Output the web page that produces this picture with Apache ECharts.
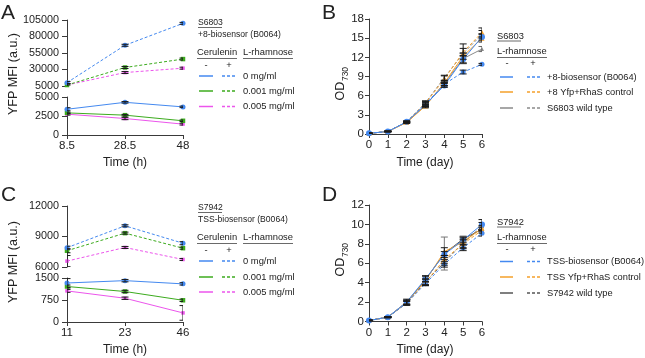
<!DOCTYPE html>
<html><head><meta charset="utf-8">
<script src="https://cdn.jsdelivr.net/npm/echarts@6/dist/echarts.min.js"></script>
<style>html,body{margin:0;padding:0;background:#fff}#c{width:645px;height:358px}</style>
</head><body><div id="c"></div>
<script>
// ---------- Panel A (S6803, time in h) ----------
const aTimes = ['8.5', '28.5', '48'];
const aBlueDash = [10100, 66700, 99900];
const aGreenDash = [6500, 33000, 45800];
const aMagDash = [6500, 25400, 32000];
const aBlueSolid = [3390, 4300, 3700];
const aGreenSolid = [2910, 2610, 1870];
const aMagSolid = [2740, 2170, 1430];
const aErrBlueDash = [1800, 1500, 1500];
const aErrGreenDash = [1800, 1500, 1500];
const aErrMagDash = [1800, 1500, 1500];
const aErrBlueSolid = [200, 100, 100];
const aErrGreenSolid = [100, 100, 100];
const aErrMagSolid = [120, 150, 120];

// ---------- Panel C (S7942, time in h) ----------
const cTimes = ['11', '23', '46'];
const cBlueDash = [7900, 10050, 8340];
const cGreenDash = [7600, 9330, 7850];
const cMagDash = [6580, 7920, 6740];
const cBlueSolid = [1330, 1410, 1300];
const cGreenSolid = [1210, 1040, 740];
const cMagSolid = [1060, 810, 310];
const cErrBlueDash = [150, 100, 150];
const cErrGreenDash = [200, 100, 100];
const cErrMagDash = [550, 100, 100];
const cErrBlueSolid = [150, 40, 40];
const cErrGreenSolid = [50, 40, 40];
const cErrMagSolid = [50, 40, 250];

// ---------- Panel B (S6803 growth, OD730) ----------
const days = [0, 1, 2, 3, 4, 5, 6];
const bBlueSolid = [0.1, 0.4, 1.9, 4.6, 7.6, 11.7, 15.2];
const bBlueDash = [0.1, 0.4, 1.9, 4.7, 7.8, 9.7, 10.9];
const bOrangeSolid = [0.1, 0.4, 1.8, 4.4, 8.0, 12.2, 15.0];
const bOrangeDash = [0.1, 0.4, 1.9, 4.8, 8.6, 12.8, 15.9];
const bGreySolid = [0.1, 0.4, 1.8, 4.5, 7.9, 11.8, 13.3];
const bGreyDash = [0.1, 0.4, 1.9, 4.9, 8.8, 12.6, 15.6];
const bErrBlueSolid = [0.05, 0.05, 0.15, 0.3, 0.3, 0.6, 0.5];
const bErrBlueDash = [0.05, 0.05, 0.1, 0.3, 0.3, 0.3, 0.15];
const bErrOrangeSolid = [0.05, 0.05, 0.15, 0.3, 0.4, 0.5, 0.6];
const bErrOrangeDash = [0.05, 0.05, 0.1, 0.3, 0.5, 0.6, 0.7];
const bErrGreySolid = [0.05, 0.05, 0.1, 0.3, 0.3, 0.8, 0.4];
const bErrGreyDash = [0.05, 0.05, 0.1, 0.3, 0.4, 1.5, 0.6];

// ---------- Panel D (S7942 growth, OD730) ----------
const dBlueSolid = [0.1, 0.45, 2.0, 4.4, 6.9, 8.4, 10.0];
const dBlueDash = [0.1, 0.45, 1.9, 3.9, 5.9, 7.6, 9.1];
const dOrangeSolid = [0.1, 0.45, 2.0, 4.2, 7.2, 8.2, 9.6];
const dOrangeDash = [0.1, 0.45, 1.9, 4.0, 6.4, 8.0, 9.4];
const dGreySolid = [0.1, 0.45, 2.0, 4.3, 7.0, 8.5, 9.5];
const dGreyDash = [0.1, 0.45, 1.9, 4.1, 6.1, 8.1, 9.8];
const dErrBlueSolid = [0.05, 0.05, 0.3, 0.3, 0.3, 0.3, 0.5];
const dErrBlueDash = [0.05, 0.05, 0.2, 0.2, 0.3, 0.3, 0.3];
const dErrOrangeSolid = [0.05, 0.05, 0.2, 0.5, 0.4, 0.3, 0.3];
const dErrOrangeDash = [0.05, 0.05, 0.2, 0.3, 0.4, 0.4, 0.3];
const dErrGreySolid = [0.05, 0.05, 0.2, 0.3, 1.7, 0.3, 0.3];
const dErrGreyDash = [0.05, 0.05, 0.2, 0.3, 0.3, 0.6, 0.4];

// ---------- Legend texts ----------
const concLabels = ['0 mg/ml', '0.001 mg/ml', '0.005 mg/ml'];
const bLegendLabels = ['+8-biosensor (B0064)', '+8 Yfp+RhaS control', 'S6803 wild type'];
const dLegendLabels = ['TSS-biosensor (B0064)', 'TSS Yfp+RhaS control', 'S7942 wild type'];

const BLUE = '#4489f0', GREEN = '#3cab1e', MAG = '#ec55ec', ORANGE = '#f5a02a', GREY = '#8a8a8a', GREYD = '#555';
const AX = '#3a3a3a';
const FONT = 'Liberation Sans, Arial, sans-serif';
const DASH = [3, 2];

const chart = echarts.init(document.getElementById('c'), null, {renderer: 'canvas'});

function lineS(idx, data, color, dashed, symbol, size, z) {
  return {type: 'line', xAxisIndex: idx, yAxisIndex: idx, data: data, symbol: symbol, symbolSize: size,
    showSymbol: true, animation: false, z: z || 3,
    lineStyle: {color: color, width: 1, type: dashed ? DASH : 'solid'},
    itemStyle: {color: color}, emphasis: {disabled: true}};
}
function xy(xs, ys) { return ys.map((v, i) => [xs[i], v]); }
function errS(idx, xs, vals, errs, color) {
  return {type: 'custom', xAxisIndex: idx, yAxisIndex: idx, clip: true, animation: false, z: 4,
    data: vals.map((v, i) => [xs[i], v - errs[i], v + errs[i]]),
    encode: {x: 0, y: [1, 2]},
    renderItem: function (params, api) {
      const x = api.value(0), lo = api.value(1), hi = api.value(2);
      const p1 = api.coord([x, hi]), p2 = api.coord([x, lo]);
      const w = 3.5;
      const st = {stroke: color || '#1a1a1a', lineWidth: 1};
      return {type: 'group', children: [
        {type: 'line', shape: {x1: p1[0], y1: p1[1], x2: p2[0], y2: p2[1]}, style: st},
        {type: 'line', shape: {x1: p1[0] - w, y1: p1[1], x2: p1[0] + w, y2: p1[1]}, style: st},
        {type: 'line', shape: {x1: p2[0] - w, y1: p2[1], x2: p2[0] + w, y2: p2[1]}, style: st}
      ]};
    }};
}
const idxA = [0, 1, 2];
const plain = v => String(v);

function axisBase() {
  return {axisLine: {show: true, lineStyle: {color: AX, width: 1}},
    axisTick: {show: true, length: 5, lineStyle: {color: AX}},
    splitLine: {show: false},
    axisLabel: {color: '#222', fontSize: 10.8, fontFamily: FONT, formatter: plain}};
}
function yAx(gridIndex, min, max, interval, tickLen, margin, fs) {
  const a = Object.assign({type: 'value', gridIndex: gridIndex, min: min, max: max, interval: interval}, axisBase());
  a.axisTick.length = tickLen; a.axisLabel.margin = margin; a.axisLabel.fontSize = fs;
  return a;
}
function xCat(gridIndex, cats, show) {
  const a = Object.assign({type: 'category', gridIndex: gridIndex, data: cats, boundaryGap: false}, axisBase());
  a.axisLabel.fontSize = 11.5; a.axisLabel.margin = 5; a.axisTick.length = 4;
  a.axisTick.alignWithLabel = true;
  if (!show) a.show = false;
  return a;
}
function xVal(gridIndex) {
  const a = Object.assign({type: 'value', gridIndex: gridIndex, min: 0, max: 6, interval: 1}, axisBase());
  a.axisLabel.fontSize = 11.5; a.axisLabel.margin = 5; a.axisTick.length = 4;
  return a;
}

const grids = [
  {left: 67, top: 20, width: 116, height: 66},
  {left: 67, top: 97, width: 116, height: 38},
  {left: 67, top: 206, width: 116, height: 61},
  {left: 67, top: 278, width: 116, height: 44},
  {left: 369, top: 19, width: 113, height: 115},
  {left: 369, top: 205, width: 113, height: 116.5}
];

const yAxes = [
  yAx(0, 5000, 105000, 25000, 5, 8, 10.8),
  yAx(1, 0, 5000, 2500, 5, 8, 10.8),
  yAx(2, 6000, 12000, 3000, 5, 8, 10.8),
  yAx(3, 0, 1500, 750, 5, 8, 10.8),
  yAx(4, 0, 18, 3, 4, 5, 11.5),
  yAx(5, 0, 12, 2, 4, 5, 11.5)
];
const xAxes = [xCat(0, aTimes, false), xCat(1, aTimes, true), xCat(2, cTimes, false), xCat(3, cTimes, true), xVal(4), xVal(5)];

const series = [
  // A upper (dashed, + L-rhamnose)
  lineS(0, aMagDash, MAG, true, 'rect', 3.5), lineS(0, aGreenDash, GREEN, true, 'rect', 4.5), lineS(0, aBlueDash, BLUE, true, 'circle', 5),
  errS(0, idxA, aMagDash, aErrMagDash), errS(0, idxA, aGreenDash, aErrGreenDash), errS(0, idxA, aBlueDash, aErrBlueDash),
  // A lower (solid)
  lineS(1, aMagSolid, MAG, false, 'rect', 3.5), lineS(1, aGreenSolid, GREEN, false, 'rect', 4.5), lineS(1, aBlueSolid, BLUE, false, 'circle', 5),
  errS(1, idxA, aMagSolid, aErrMagSolid), errS(1, idxA, aGreenSolid, aErrGreenSolid), errS(1, idxA, aBlueSolid, aErrBlueSolid),
  // C upper
  lineS(2, cMagDash, MAG, true, 'rect', 3.5), lineS(2, cGreenDash, GREEN, true, 'rect', 4.5), lineS(2, cBlueDash, BLUE, true, 'circle', 5),
  errS(2, idxA, cMagDash, cErrMagDash), errS(2, idxA, cGreenDash, cErrGreenDash), errS(2, idxA, cBlueDash, cErrBlueDash),
  // C lower
  lineS(3, cMagSolid, MAG, false, 'rect', 3.5), lineS(3, cGreenSolid, GREEN, false, 'rect', 4.5), lineS(3, cBlueSolid, BLUE, false, 'circle', 5),
  errS(3, idxA, cMagSolid, cErrMagSolid), errS(3, idxA, cGreenSolid, cErrGreenSolid), errS(3, idxA, cBlueSolid, cErrBlueSolid),
  // B
  lineS(4, xy(days, bGreyDash), GREY, true, 'triangle', 4), lineS(4, xy(days, bGreySolid), GREY, false, 'triangle', 4),
  lineS(4, xy(days, bOrangeDash), ORANGE, true, 'triangle', 5), lineS(4, xy(days, bOrangeSolid), ORANGE, false, 'triangle', 5),
  lineS(4, xy(days, bBlueDash), BLUE, true, 'circle', 5), lineS(4, xy(days, bBlueSolid), BLUE, false, 'circle', 6),
  errS(4, days, bGreyDash, bErrGreyDash), errS(4, days, bGreySolid, bErrGreySolid, '#666'),
  errS(4, days, bOrangeDash, bErrOrangeDash), errS(4, days, bOrangeSolid, bErrOrangeSolid),
  errS(4, days, bBlueDash, bErrBlueDash), errS(4, days, bBlueSolid, bErrBlueSolid),
  // D
  lineS(5, xy(days, dGreyDash), GREYD, true, 'triangle', 4), lineS(5, xy(days, dGreySolid), GREYD, false, 'triangle', 4),
  lineS(5, xy(days, dOrangeDash), ORANGE, true, 'triangle', 5), lineS(5, xy(days, dOrangeSolid), ORANGE, false, 'triangle', 5),
  lineS(5, xy(days, dBlueDash), BLUE, true, 'circle', 5), lineS(5, xy(days, dBlueSolid), BLUE, false, 'circle', 6),
  errS(5, days, dGreyDash, dErrGreyDash), errS(5, days, dGreySolid, dErrGreySolid, '#777'),
  errS(5, days, dOrangeDash, dErrOrangeDash), errS(5, days, dOrangeSolid, dErrOrangeSolid),
  errS(5, days, dBlueDash, dErrBlueDash), errS(5, days, dBlueSolid, dErrBlueSolid)
];

// ---------- graphic: titles, labels, legends ----------
const G = [];
function txt(x, y, s, size, opt) {
  G.push(Object.assign({type: 'text', x: x, y: y, silent: true,
    style: Object.assign({text: s, fill: '#222', font: size + 'px ' + FONT, align: 'left', verticalAlign: 'middle'}, (opt && opt.style) || {})},
    opt && opt.el || {}));
}
function ln(x1, y1, x2, y2, color, dash, w) {
  G.push({type: 'line', silent: true, shape: {x1: x1, y1: y1, x2: x2, y2: y2},
    style: {stroke: color, lineWidth: w || 1.5, lineDash: dash || null}});
}
// panel letters
txt(1, 13, 'A', 21); txt(322, 13, 'B', 21); txt(1, 195, 'C', 21); txt(322, 195, 'D', 21);
// y titles
txt(14, 74, 'YFP MFI (a.u.)', 12.5, {style: {align: 'center'}, el: {rotation: Math.PI / 2}});
txt(14, 262, 'YFP MFI (a.u.)', 12.5, {style: {align: 'center'}, el: {rotation: Math.PI / 2}});
function odTitle(cx, yOD, y730) {
  txt(cx, yOD, 'OD', 12.5, {style: {align: 'center'}, el: {rotation: Math.PI / 2}});
  txt(cx + 5, y730, '730', 8.5, {style: {align: 'center'}, el: {rotation: Math.PI / 2}});
}
odTitle(341, 91, 74); odTitle(341, 267, 250);
// x titles
txt(125, 163, 'Time (h)', 12, {style: {align: 'center'}});
txt(125, 350, 'Time (h)', 12, {style: {align: 'center'}});
txt(425, 163, 'Time (day)', 12, {style: {align: 'center'}});
txt(425, 350, 'Time (day)', 12, {style: {align: 'center'}});

function legendAC(y0, strain, construct, rowYs) {
  txt(198, y0, strain, 8.6);
  ln(198, y0 + 5, 222, y0 + 5, '#444', null, 0.8);
  txt(198, y0 + 12, construct, 8.6);
  const hy = y0 + 30;
  txt(197, hy, 'Cerulenin', 9.4);
  ln(197, hy + 6, 237, hy + 6, '#444', null, 0.8);
  txt(243, hy, 'L-rhamnose', 9.4);
  ln(243, hy + 6, 293, hy + 6, '#444', null, 0.8);
  txt(206, hy + 13, '-', 9.4, {style: {align: 'center'}});
  txt(229, hy + 13, '+', 9.4, {style: {align: 'center'}});
  const cols = [BLUE, GREEN, MAG];
  rowYs.forEach((ry, i) => {
    ln(199, ry, 213, ry, cols[i]);
    ln(222, ry, 237, ry, cols[i], [3, 2]);
    txt(243, ry, concLabels[i], 9.4);
  });
}
legendAC(22.5, 'S6803', '+8-biosensor (B0064)', [76, 91, 106.5]);
legendAC(207.5, 'S7942', 'TSS-biosensor (B0064)', [261, 277, 292]);

function legendBD(y0, strain, labels, rowYs, greyCol) {
  txt(497, y0, strain, 9.3);
  ln(497, y0 + 5, 521, y0 + 5, '#444', null, 0.8);
  const hy = y0 + 15.5;
  txt(497, hy, 'L-rhamnose', 9.3);
  ln(497, hy + 6, 547, hy + 6, '#444', null, 0.8);
  txt(507, hy + 12, '-', 9.3, {style: {align: 'center'}});
  txt(533, hy + 12, '+', 9.3, {style: {align: 'center'}});
  const cols = [BLUE, ORANGE, greyCol];
  rowYs.forEach((ry, i) => {
    ln(500, ry, 513, ry, cols[i]);
    ln(527, ry, 541, ry, cols[i], [3, 2]);
    txt(547, ry, labels[i], 9.3);
  });
}
legendBD(36, 'S6803', bLegendLabels, [77, 92, 108], GREY);
legendBD(222, 'S7942', dLegendLabels, [261.5, 277, 293], GREYD);

chart.setOption({
  animation: false,
  backgroundColor: '#fff',
  textStyle: {fontFamily: FONT},
  grid: grids,
  xAxis: xAxes,
  yAxis: yAxes,
  series: series,
  graphic: G
});
</script></body></html>
